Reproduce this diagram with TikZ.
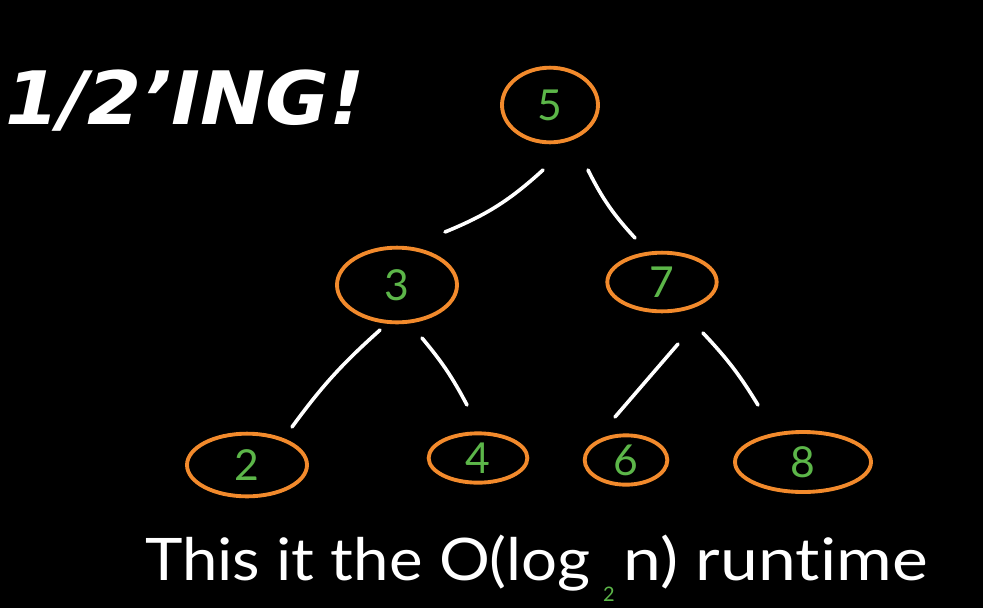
\documentclass[tikz,border=0pt]{standalone}
\usepackage{fontspec}
\setmainfont{Lato}[Ligatures={NoCommon}]
\newfontfamily\titlefont{DejaVu Sans}
\usetikzlibrary{shapes.geometric,calc}
\definecolor{ringorange}{HTML}{F28A2C}
\definecolor{digitgreen}{HTML}{5CB649}
\tikzset{
  ring/.style={ellipse, draw=ringorange, line width=2.9pt, inner sep=0pt,
    text=digitgreen, font=\fontsize{32}{32}\selectfont},
  branch/.style={draw=white, line width=2.7pt, line cap=round},
  caption/.style={inner sep=0pt, text=white, font=\fontsize{44}{44}\selectfont},
}
\begin{document}
\begin{tikzpicture}[x=0.75pt,y=-0.75pt]
\fill[black] (0,0) rectangle (983,608);
\useasboundingbox (0,0) rectangle (983,608);
% nodes
\node[ring, minimum width=72pt, minimum height=56pt] (n5) at (550,105) {5};
\node[ring, minimum width=90pt, minimum height=56pt] (n3) at (397,285) {3};
\node[ring, minimum width=82pt, minimum height=44pt] (n7) at (662,282) {7};
\node[ring, minimum width=90pt, minimum height=47pt] (n2) at (247,465) {2};
\node[ring, minimum width=74pt, minimum height=37pt] (n4) at (478,458) {4};
\node[ring, minimum width=62pt, minimum height=37pt] (n6) at (626,460) {6};
\node[ring, minimum width=102pt, minimum height=45pt] (n8) at (803,462) {8};
% branches
\draw[branch] ($(n5)+(-7,65)$) to[bend left=10] ($(n3)+(48,-53)$);
\draw[branch] ($(n5)+(38,65)$) to[bend right=8] ($(n7)+(-27,-44)$);
\draw[branch] ($(n3)+(-17,45)$) to[bend right=6] ($(n2)+(45,-38)$);
\draw[branch] ($(n3)+(25,53)$) to[bend left=6] ($(n4)+(-11,-53)$);
\draw[branch] ($(n7)+(16,62)$) -- ($(n6)+(-11,-43)$);
\draw[branch] ($(n7)+(41,51)$) to[bend left=6] ($(n8)+(-45,-57)$);
% title
\node[anchor=north west, inner sep=0pt, text=white] (title) at (5,70)
  {\resizebox{270pt}{41pt}{\titlefont\bfseries\itshape 1/2’ING!}};
% caption
\node[caption, anchor=base west] (capA) at (145,580)
  {\resizebox{334pt}{\height}{This it the O(log}};
\node[caption, anchor=base east] (capB) at (928,580)
  {\resizebox{228pt}{\height}{n) runtime}};
\node[anchor=base, inner sep=0pt, text=digitgreen, font=\fontsize{15}{15}\selectfont] (sub) at (609,601) {2};
\end{tikzpicture}
\end{document}
